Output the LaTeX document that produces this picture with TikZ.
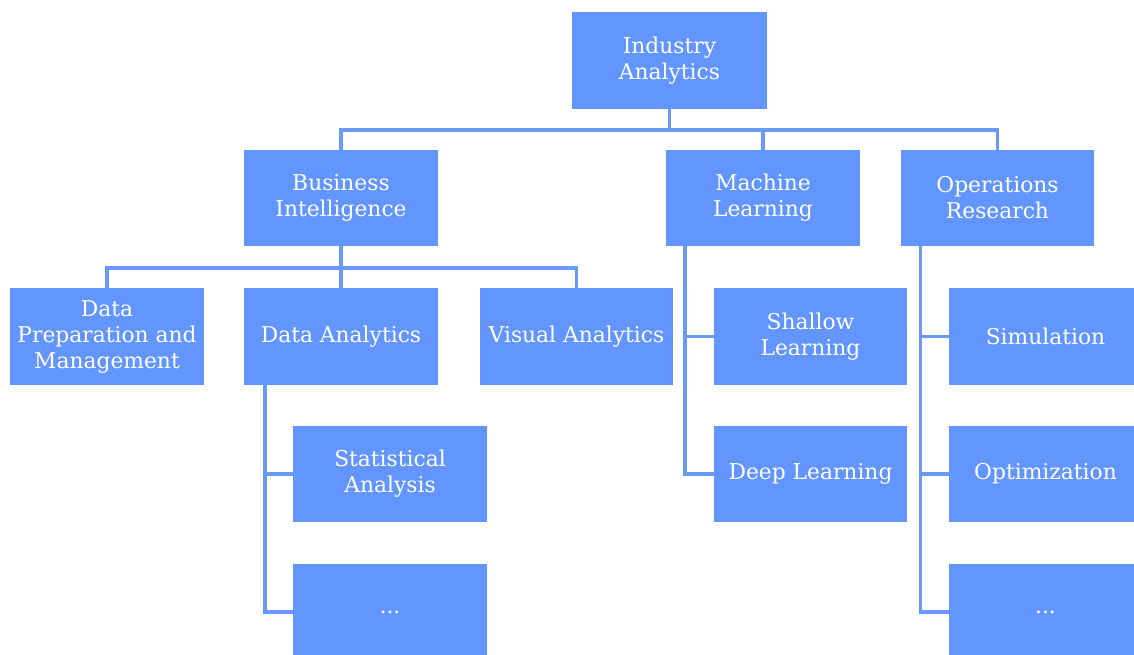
\documentclass[tikz,border=0pt]{standalone}
\usepackage{fontspec}
\setmainfont{DejaVu Serif}
\usetikzlibrary{positioning}
\definecolor{boxBlue}{RGB}{99,149,255}
\definecolor{lineBlue}{RGB}{104,154,246}
\tikzset{
  topic/.style={fill=boxBlue,text=white,align=center,inner sep=2pt,
    minimum width=4.83cm,minimum height=2.4cm,font=\fontsize{15.5}{18.5}\selectfont},
  link/.style={draw=lineBlue,line width=2.4pt}
}

\begin{document}
\begin{tikzpicture}[x=0.025cm,y=-0.025cm]
\useasboundingbox (0,0) rectangle (1134,655);
\begin{scope}
\clip (0,0) rectangle (1134,655);
% first and second level
\node[topic,minimum width=4.88cm] (ind) at (669.5,60.5) {Industry\\Analytics};
\node[topic] (bi) at (341,198) {Business\\Intelligence};
\node[topic] (ml) at (763,198) {Machine\\Learning};
\node[topic] (opr) at (997.5,198) {Operations\\Research};
% business intelligence
\node[topic] (dpm) at (107,336.5) {Data\\Preparation and\\Management};
\node[topic] (da) at (341,336.5) {Data Analytics};
\node[topic] (va) at (576.5,336.5) {Visual Analytics};
\node[topic] (sa) at (390,474) {Statistical\\Analysis};
\node[topic] (damore) at (390,612) {...};
% machine learning
\node[topic] (sl) at (810.5,336.5) {Shallow\\Learning};
\node[topic] (dl) at (810.5,474) {Deep Learning};
% operations research
\node[topic] (sim) at (1045.5,336.5) {Simulation};
\node[topic] (opt) at (1045.5,474) {Optimization};
\node[topic] (ormore) at (1045.5,612) {...};
\end{scope}

\coordinate (top) at (669.5,130);
\coordinate (mid) at (341,268);
\draw[link] (ind) -- (top);
\draw[link] (bi.north) |- (top) -| (opr.north);
\draw[link] (ml.north) -- (ml.north |- top);
\draw[link] (bi) -- (mid);
\draw[link] (dpm.north) |- (mid) -| (va.north);
\draw[link] (da.north) -- (mid);

\coordinate (daspine) at ([xshift=0.525cm]da.south west);
\coordinate (mlspine) at ([xshift=0.475cm]ml.south west);
\coordinate (orspine) at ([xshift=0.5cm]opr.south west);
\draw[link] (daspine) |- (damore.west);
\draw[link] (daspine |- sa.west) -- (sa.west);
\draw[link] (mlspine) |- (dl.west);
\draw[link] (mlspine |- sl.west) -- (sl.west);
\draw[link] (orspine) |- (ormore.west);
\draw[link] (orspine |- sim.west) -- (sim.west);
\draw[link] (orspine |- opt.west) -- (opt.west);
\end{tikzpicture}
\end{document}
